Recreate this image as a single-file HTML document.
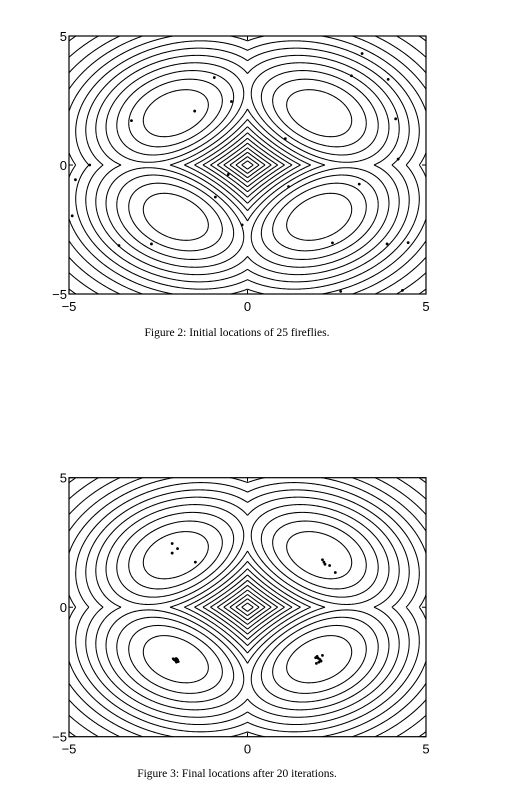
<!DOCTYPE html>
<html><head><meta charset="utf-8"><style>
html,body{margin:0;padding:0;background:#fff;}
svg{display:block;}
text{font-family:"Liberation Sans",sans-serif;fill:#000;}
.cap{font-family:"Liberation Serif",serif;font-size:11.5px;}
</style></head>
<body>
<svg id="fig" width="513" height="807" viewBox="0 0 513 807" xmlns="http://www.w3.org/2000/svg">
<text class="cap" x="237" y="336" text-anchor="middle">Figure 2: Initial locations of 25 fireflies.</text>
<text class="cap" x="237" y="777" text-anchor="middle">Figure 3: Final locations after 20 iterations.</text>
</svg>
<script>
// data
const xTicks = [-5, 0, 5];
const yTicks = [-5, 0, 5];
const tickLabels = ["\u22125", "0", "5"];
const levelStep = 0.1617;
const levelCount = 14;
const initX = [-0.93,-0.45,-1.48,-3.25,-4.42,-4.82,-4.91,-3.60,-2.69,-0.90,-0.54,-0.15,1.15,1.06,3.21,2.91,3.94,4.15,4.22,3.13,2.38,3.91,4.50,2.61,4.34];
const initY = [3.39,2.46,2.09,1.72,0,-0.57,-1.97,-3.12,-3.06,-1.24,-0.37,-2.32,-0.84,1.02,4.32,3.46,3.32,1.79,0.23,-0.74,-3.02,-3.06,-3.01,-4.90,-4.86];
const finalX = [-2.11,-1.96,-2.11,-1.46,2.10,2.17,2.30,2.46,2.14,-2.05,-1.98,-1.94,-2.02,-2.08,-1.99,1.98,2.10,1.93,2.03,1.91,2.06,-2.0,2.0,-1.96,1.95];
const finalY = [2.46,2.26,2.09,1.74,1.83,1.66,1.61,1.34,1.74,-2.03,-2.00,-2.10,-2.06,-1.99,-2.12,-1.97,-1.86,-2.17,-2.02,-1.95,-2.08,-1.98,-2.12,-2.04,-1.90];

const NS = "http://www.w3.org/2000/svg";
const svg = document.getElementById('fig');
function f(x,y){return (Math.abs(x)+Math.abs(y))*Math.exp(-0.0625*(x*x+y*y));}

function drawPlot(name, L, R, T, B, px, py){
  const g = document.createElementNS(NS,'g');
  
  
  svg.appendChild(g);
  const sx = v => L + (v+5)/10*(R-L);
  const sy = v => B - (v+5)/10*(B-T);
  const N = 260, h = 10/N;
  const vals = [];
  for(let i=0;i<=N;i++){vals.push([]);for(let j=0;j<=N;j++)vals[i].push(f(-5+j*h,-5+i*h));}
  let d = "";
  for(let k=1;k<=levelCount;k++){
    const lv = k*levelStep;
    for(let i=0;i<N;i++)for(let j=0;j<N;j++){
      const a=vals[i][j],b=vals[i][j+1],c=vals[i+1][j+1],e=vals[i+1][j];
      const x0=-5+j*h,y0=-5+i*h;
      const pts=[];
      if((a<lv)!==(b<lv))pts.push([x0+h*(lv-a)/(b-a),y0]);
      if((b<lv)!==(c<lv))pts.push([x0+h,y0+h*(lv-b)/(c-b)]);
      if((e<lv)!==(c<lv))pts.push([x0+h*(lv-e)/(c-e),y0+h]);
      if((a<lv)!==(e<lv))pts.push([x0,y0+h*(lv-a)/(e-a)]);
      for(let p=0;p+1<pts.length;p+=2){
        d+="M"+sx(pts[p][0]).toFixed(2)+" "+sy(pts[p][1]).toFixed(2)+"L"+sx(pts[p+1][0]).toFixed(2)+" "+sy(pts[p+1][1]).toFixed(2);
      }
    }
  }
  const path = document.createElementNS(NS,'path');
  
  
  path.setAttribute('d', d);
  path.setAttribute('stroke', '#000');
  path.setAttribute('stroke-width', '1.05');
  path.setAttribute('fill', 'none');
  g.appendChild(path);
  const fr = document.createElementNS(NS,'rect');
  
  
  fr.setAttribute('x', L); fr.setAttribute('y', T);
  fr.setAttribute('width', R-L); fr.setAttribute('height', B-T);
  fr.setAttribute('fill', 'none'); fr.setAttribute('stroke', '#000'); fr.setAttribute('stroke-width', '1.2');
  g.appendChild(fr);
  xTicks.forEach((v,i)=>{
    const X = sx(v);
    const tk = document.createElementNS(NS,'path');
    
    
    tk.setAttribute('d', `M${X} ${B}v-4M${X} ${T}v4`);
    tk.setAttribute('stroke', '#000');
    g.appendChild(tk);
    const t = document.createElementNS(NS,'text');
    
    
    t.setAttribute('x', X); t.setAttribute('y', B+17);
    t.setAttribute('text-anchor', 'middle'); t.setAttribute('font-size', '13');
    t.textContent = tickLabels[i];
    g.appendChild(t);
  });
  yTicks.forEach((v,i)=>{
    const Y = sy(v);
    const tk = document.createElementNS(NS,'path');
    
    
    tk.setAttribute('d', `M${L} ${Y}h4M${R} ${Y}h-4`);
    tk.setAttribute('stroke', '#000');
    g.appendChild(tk);
    const t = document.createElementNS(NS,'text');
    
    
    t.setAttribute('x', L-2); t.setAttribute('y', Y+5);
    t.setAttribute('text-anchor', 'end'); t.setAttribute('font-size', '13');
    t.textContent = tickLabels[i];
    g.appendChild(t);
  });
  px.forEach((v,i)=>{
    const c = document.createElementNS(NS,'circle');
    
    
    c.setAttribute('cx', sx(v)); c.setAttribute('cy', sy(py[i]));
    c.setAttribute('r', '1.4'); c.setAttribute('fill', '#000');
    g.appendChild(c);
  });
}
drawPlot('initial-fireflies-plot', 69, 426, 36, 294, initX, initY);
drawPlot('final-fireflies-plot', 69, 426, 477.7, 736.7, finalX, finalY);
</script>
</body></html>
